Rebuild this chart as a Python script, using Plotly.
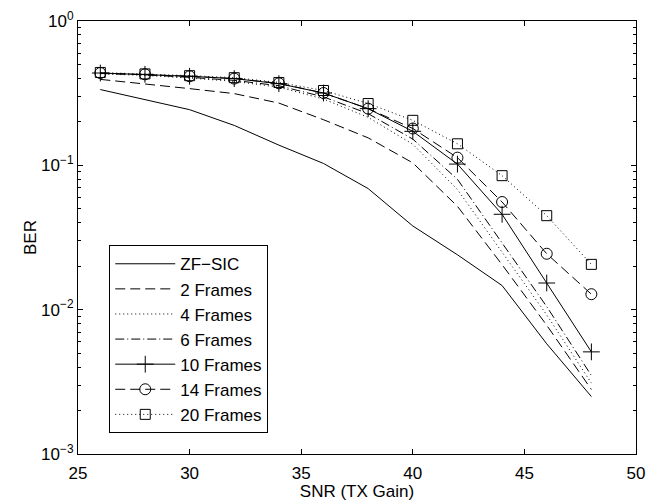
import plotly.graph_objects as go

# SNR points (TX gain)
snr = [26, 28, 30, 32, 34, 36, 38, 40, 42, 44, 46, 48]

# Bit error rate per receiver configuration
ber_zf_sic = [0.335, 0.285, 0.243, 0.189, 0.138, 0.103, 0.069, 0.038, 0.024, 0.0147, 0.0058, 0.0025]
ber_2_frames = [0.394, 0.368, 0.340, 0.314, 0.270, 0.207, 0.155, 0.104, 0.052, 0.0205, 0.0078, 0.0028]
ber_4_frames = [0.430, 0.420, 0.402, 0.382, 0.348, 0.288, 0.215, 0.140, 0.068, 0.025, 0.0092, 0.0031]
ber_6_frames = [0.433, 0.424, 0.407, 0.388, 0.356, 0.298, 0.228, 0.152, 0.080, 0.029, 0.0105, 0.0035]
ber_10_frames = [0.436, 0.427, 0.414, 0.399, 0.368, 0.317, 0.247, 0.172, 0.102, 0.0458, 0.0153, 0.0051]
ber_14_frames = [0.436, 0.427, 0.414, 0.399, 0.370, 0.317, 0.247, 0.180, 0.113, 0.0557, 0.0244, 0.0128]
ber_20_frames = [0.440, 0.430, 0.418, 0.405, 0.375, 0.330, 0.268, 0.205, 0.141, 0.0848, 0.0448, 0.0206]

x_ticks = [25, 30, 35, 40, 45, 50]
y_ticks = [1, 0.1, 0.01, 0.001]
y_tick_text = ["10<sup>0</sup>", "10<sup>−1</sup>", "10<sup>−2</sup>", "10<sup>−3</sup>"]

series = [
    ("ZF−SIC", ber_zf_sic, "solid", None),
    ("2 Frames", ber_2_frames, "10px,5px", None),
    ("4 Frames", ber_4_frames, "1px,3px", None),
    ("6 Frames", ber_6_frames, "9px,3px,1px,3px", None),
    ("10 Frames", ber_10_frames, "solid", "cross-thin"),
    ("14 Frames", ber_14_frames, "10px,5px", "circle-open"),
    ("20 Frames", ber_20_frames, "1px,3px", "square-open"),
]

marker_sizes = {"cross-thin": 12, "circle-open": 11, "square-open": 10}

fig = go.Figure()
for name, values, dash, symbol in series:
    trace = dict(
        x=snr,
        y=values,
        name=name,
        line=dict(color="black", width=1, dash=dash),
    )
    if symbol:
        trace["mode"] = "lines+markers"
        trace["marker"] = dict(
            symbol=symbol,
            size=marker_sizes[symbol],
            color="black",
            line=dict(color="black", width=1),
        )
    else:
        trace["mode"] = "lines"
    fig.add_trace(go.Scatter(**trace))

# minor log ticks between decades
minor_vals = [m * 10.0 ** e for e in (-3, -2, -1) for m in range(2, 10)]

axis_font = dict(family="Liberation Sans, Arial, sans-serif", size=17, color="black")

fig.update_layout(
    width=647,
    height=501,
    margin=dict(l=78, r=11, t=21, b=47),
    paper_bgcolor="white",
    plot_bgcolor="white",
    font=axis_font,
    showlegend=True,
    legend=dict(
        x=0.056,
        y=0.048,
        xanchor="left",
        yanchor="bottom",
        bgcolor="white",
        bordercolor="black",
        borderwidth=1,
        font=dict(family="Liberation Sans, Arial, sans-serif", size=17, color="black"),
        tracegroupgap=0,
        itemwidth=60,
    ),
    xaxis=dict(
        range=[25, 50],
        tickvals=x_ticks,
        ticks="inside",
        ticklen=5,
        tickcolor="black",
        ticklabelstandoff=4,
        showline=True,
        linecolor="black",
        linewidth=1,
        mirror="ticks",
        showgrid=False,
        zeroline=False,
        automargin=False,
        title=dict(text="SNR (TX Gain)", standoff=0, font=axis_font),
        tickfont=axis_font,
    ),
    yaxis=dict(
        type="log",
        range=[-3, 0],
        tickvals=y_ticks,
        ticktext=y_tick_text,
        ticks="inside",
        ticklen=5,
        tickcolor="black",
        showline=True,
        linecolor="black",
        linewidth=1,
        mirror="ticks",
        showgrid=False,
        zeroline=False,
        automargin=False,
        minor=dict(ticks="inside", ticklen=3, tickcolor="black", tickvals=minor_vals, showgrid=False),
        title=dict(text="BER", standoff=0, font=axis_font),
        tickfont=axis_font,
    ),
)

fig.write_html("out.html")
